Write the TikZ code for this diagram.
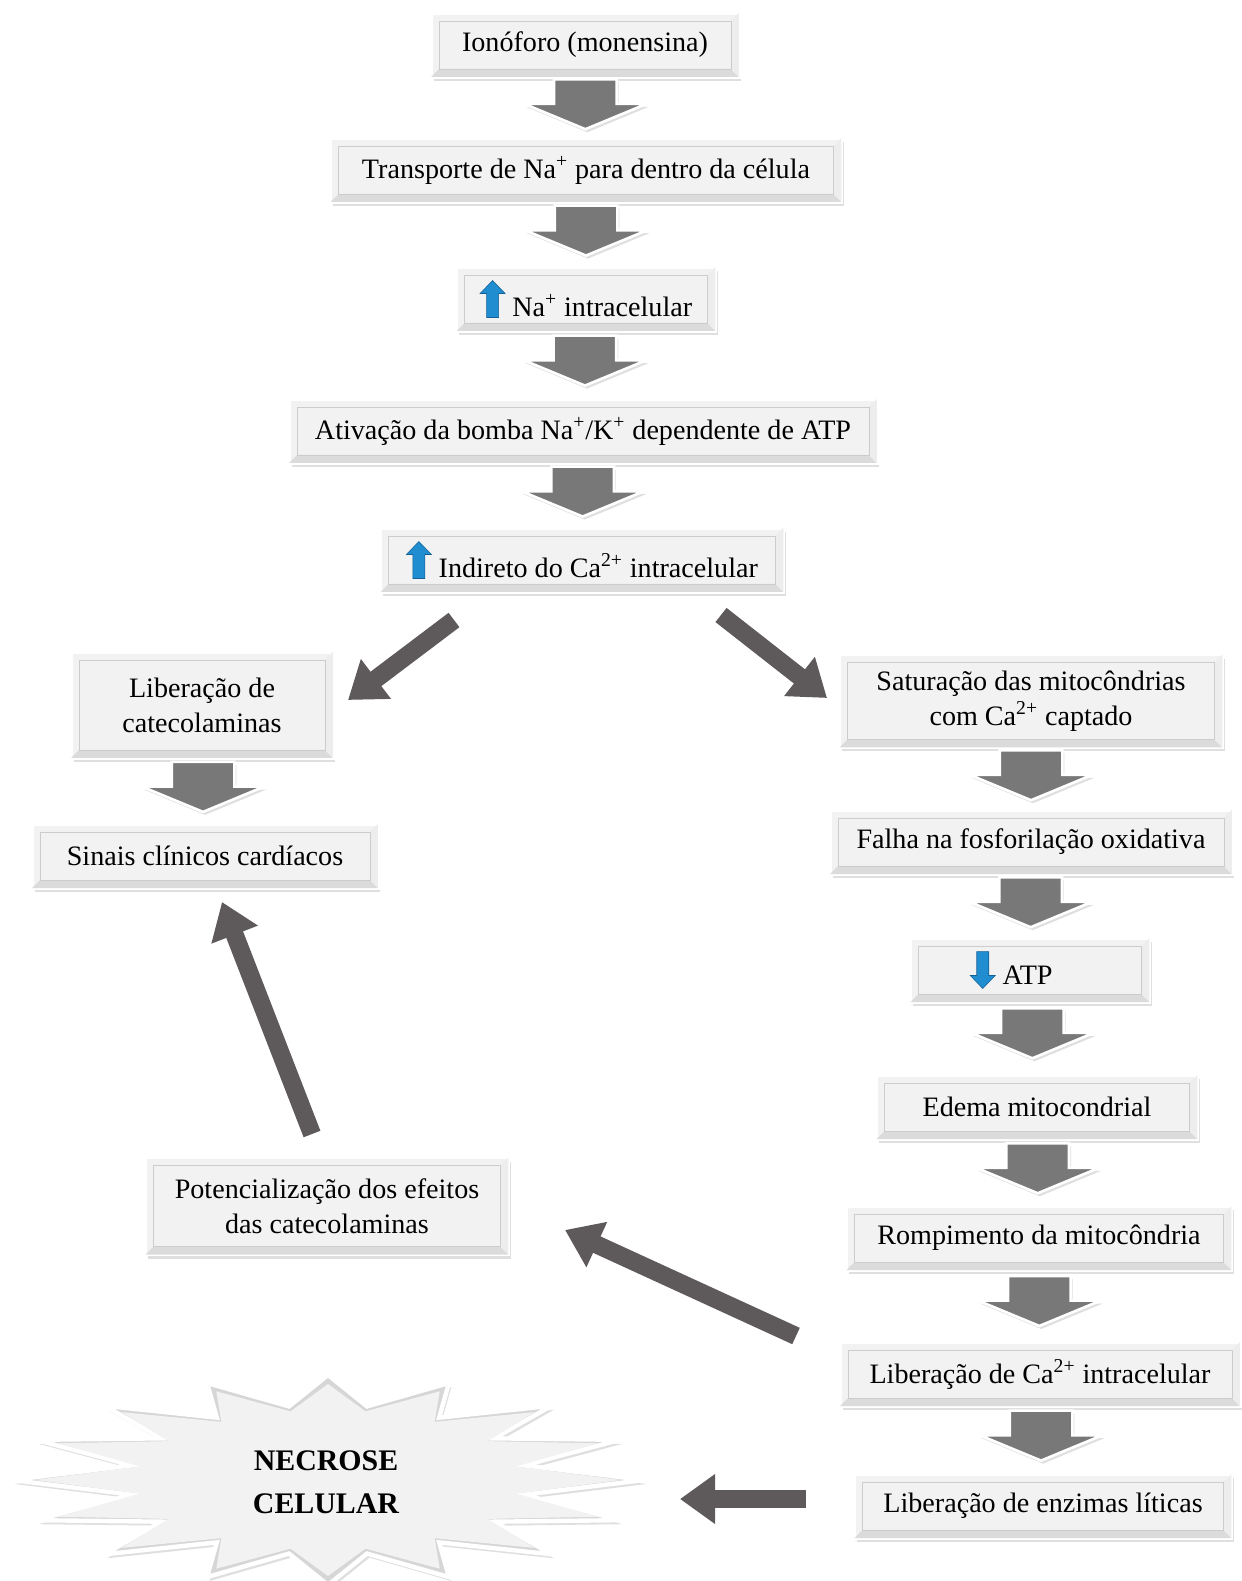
\documentclass[tikz,border=0pt]{standalone}
\usepackage{fontspec}
\setmainfont{Liberation Serif}
\usetikzlibrary{shapes.arrows,shadows,calc,arrows.meta}

\definecolor{caixa}{RGB}{242,242,242}
\definecolor{setacinza}{RGB}{120,120,120}
\definecolor{setaescura}{RGB}{94,89,91}
\definecolor{azul}{RGB}{31,141,208}
\definecolor{azulesc}{RGB}{20,95,150}

\tikzset{
  etapa/.style={rectangle, fill=caixa, draw=white, line width=2pt, outer sep=0pt,
    inner sep=0pt, minimum height=1.28cm, align=center,
    font=\fontsize{16}{20}\selectfont,
    drop shadow={opacity=.25, shadow xshift=.05cm, shadow yshift=-.08cm}},
  bloco/.style={single arrow, fill=setacinza, draw=white, line width=1.5pt,
    inner xsep=0pt, inner ysep=.6cm, minimum height=1cm, minimum width=2.4cm,
    single arrow head extend=.6cm, single arrow tip angle=135, rotate=-90,
    drop shadow={opacity=.25, shadow xshift=.04cm, shadow yshift=-.06cm}},
  seta/.style={draw=setaescura, line width=.36cm,
    -{Triangle[width=.95cm,length=.7cm]},
    preaction={draw=white, line width=.5cm, -{Triangle[width=1.2cm,length=.85cm]}}}
}

% setas azuis dentro das caixas
\newcommand{\sobe}{\tikz[baseline=-.04cm]\filldraw[fill=azul, draw=azulesc, line width=.3pt]
  (-.12cm,-.06cm) -- (-.12cm,.42cm) -- (-.25cm,.42cm) -- (0cm,.68cm) -- (.25cm,.42cm)
  -- (.12cm,.42cm) -- (.12cm,-.06cm) -- cycle;}
\newcommand{\desce}{\tikz[baseline=-.04cm]\filldraw[fill=azul, draw=azulesc, line width=.3pt]
  (-.12cm,.62cm) -- (-.12cm,.14cm) -- (-.25cm,.14cm) -- (0cm,-.12cm) -- (.25cm,.14cm)
  -- (.12cm,.14cm) -- (.12cm,.62cm) -- cycle;}

\begin{document}
\begin{tikzpicture}[x=0.02cm, y=-0.02cm]
  \path[fill=white, use as bounding box] (0,0) rectangle (1241,1581);

  % coluna central
  \node[etapa, minimum width=6.16cm]  (ion)   at (585,45)  {Ionóforo (monensina)};
  \node[etapa, minimum width=10.22cm] (trans) at (586,170) {Transporte de Na\textsuperscript{+} para dentro da célula};
  \node[etapa, minimum width=5.18cm]  (na)    at (586,299) {\sobe\ Na\textsuperscript{+} intracelular};
  \node[etapa, minimum width=11.76cm] (ativ)  at (583,431) {Ativação da bomba Na\textsuperscript{+}/K\textsuperscript{+} dependente de ATP};
  \node[etapa, minimum width=8.06cm]  (ind)   at (582,560) {\sobe\ Indireto do Ca\textsuperscript{2+} intracelular};

  % lado esquerdo
  \node[etapa, minimum width=5.24cm, minimum height=2.12cm] (libcat) at (202,705) {Liberação de\\catecolaminas};
  \node[etapa, minimum width=6.92cm]  (sinais) at (205,856) {Sinais clínicos cardíacos};
  \node[etapa, minimum width=7.26cm, minimum height=1.94cm] (pot) at (327,1206) {Potencialização dos efeitos\\das catecolaminas};

  % lado direito
  \node[etapa, minimum width=7.66cm, minimum height=1.86cm] (sat) at (1031,701) {Saturação das mitocôndrias\\com Ca\textsuperscript{2+} captado};
  \node[etapa, minimum width=8.04cm]  (falha) at (1031,842)  {Falha na fosforilação oxidativa};
  \node[etapa, minimum width=4.78cm]  (atp)   at (1030,970)  {\desce\ ATP\hspace*{.75cm}};
  \node[etapa, minimum width=6.42cm]  (edema) at (1037,1107) {Edema mitocondrial};
  \node[etapa, minimum width=7.7cm]   (romp)  at (1039,1238) {Rompimento da mitocôndria};
  \node[etapa, minimum width=8cm]     (libca) at (1040,1374) {Liberação de Ca\textsuperscript{2+} intracelular};
  \node[etapa, minimum width=7.54cm]  (enz)   at (1043,1506) {Liberação de enzimas líticas};

  % relevo das caixas
  \foreach \n in {ion,trans,na,ativ,ind,libcat,sinais,pot,sat,falha,atp,edema,romp,libca,enz} {
    \fill[gray!28] (\n.south west) -- (\n.south east) -- ([shift={(-8,-8)}]\n.south east) -- ([shift={(8,-8)}]\n.south west) -- cycle;
    \fill[gray!14] (\n.south east) -- (\n.north east) -- ([shift={(-8,8)}]\n.north east) -- ([shift={(-8,-8)}]\n.south east) -- cycle;
    \draw[gray!40, line width=.5pt] ([shift={(8,-8)}]\n.south west) rectangle ([shift={(-8,8)}]\n.north east);
  }

  % setas largas entre as etapas
  \foreach \a/\b in {ion/trans,trans/na,na/ativ,ativ/ind,libcat/sinais,sat/falha,falha/atp,atp/edema,edema/romp,romp/libca,libca/enz}
    \node[bloco] (s-\a) at ($(\a.south)!.34!(\b.north)$) {};

  % explosao
  \begin{scope}[shift={(328,1480)}]
    \filldraw[fill=gray!32, draw=white, line width=2.5pt,
      drop shadow={opacity=.25, shadow xshift=.05cm, shadow yshift=-.08cm}]
      (0:316 and 105) \foreach \i in {1,...,16} { -- ({\i*22.5-11.25}:200 and 75) -- ({\i*22.5}:316 and 105)} -- cycle;
    \fill[caixa] (0:292 and 96) \foreach \i in {1,...,16} { -- ({\i*22.5-11.25}:192 and 70) -- ({\i*22.5}:292 and 96)} -- cycle;
  \end{scope}
  \node[align=center, font=\fontsize{17}{24.5}\selectfont\bfseries] (necrose) at (326,1482) {NECROSE\\CELULAR};

  % setas compridas
  \coordinate (d1a) at (454,620);  \coordinate (d1b) at (348,700);
  \coordinate (d2a) at (721,615);  \coordinate (d2b) at (827,698);
  \coordinate (d3a) at (312,1134); \coordinate (d3b) at (222,902);
  \coordinate (d4a) at (796,1336); \coordinate (d4b) at (565,1230);
  \coordinate (d5a) at (806,1499); \coordinate (d5b) at (680,1499);
  \draw[seta] (d1a) -- (d1b);
  \draw[seta] (d2a) -- (d2b);
  \draw[seta] (d3a) -- (d3b);
  \draw[seta] (d4a) -- (d4b);
  \draw[seta] (d5a) -- (d5b);
\end{tikzpicture}
\end{document}
